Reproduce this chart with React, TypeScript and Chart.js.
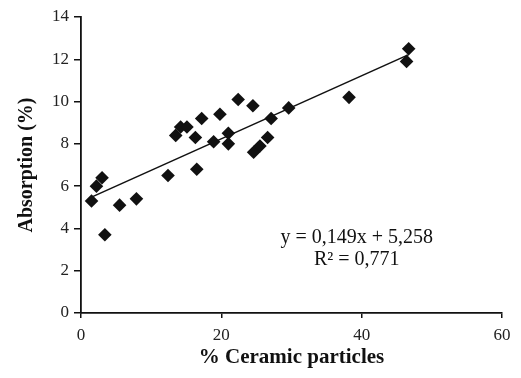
import React, { useEffect, useRef } from "react";
import { Chart, registerables } from "chart.js";

Chart.register(...registerables);

const ceramicPct = [1.5, 2.2, 3.0, 3.4, 5.5, 7.9, 12.4, 13.5, 14.2, 15.1, 16.3, 16.5, 17.2, 18.9, 19.8, 21.0, 21.0, 22.4, 24.5, 24.6, 25.5, 26.6, 27.1, 29.6, 38.2, 46.4, 46.7];
const absorption = [5.3, 6.0, 6.4, 3.7, 5.1, 5.4, 6.5, 8.4, 8.8, 8.8, 8.3, 6.8, 9.2, 8.1, 9.4, 8.5, 8.0, 10.1, 9.8, 7.6, 7.9, 8.3, 9.2, 9.7, 10.2, 11.9, 12.5];
const trendX = [1.5, 46.7];
const trendY = [5.48, 12.22];
const equationLines = ["y = 0,149x + 5,258", "R\u00b2 = 0,771"];
const xTicks = [0, 20, 40, 60];
const yTicks = [0, 2, 4, 6, 8, 10, 12, 14];

const SERIF = '"Liberation Serif", "Times New Roman", serif';

export default function App() {
  const ref = useRef<HTMLCanvasElement | null>(null);

  useEffect(() => {
    const canvas = ref.current;
    if (!canvas) return;

    const textPlugin = {
      id: "equationText",
      afterDraw(chart: any) {
        const { ctx, scales } = chart;
        const cx = scales.x.getPixelForValue(39.3);
        const cy = scales.y.getPixelForValue(3.55);
        ctx.save();
        ctx.fillStyle = "#111";
        ctx.font = `20px ${SERIF}`;
        ctx.textAlign = "center";
        ctx.textBaseline = "middle";
        equationLines.forEach((t, i) => ctx.fillText(t, cx, cy + i * 22));
        ctx.restore();
      },
    };

    const chart = new Chart(canvas, {
      type: "scatter",
      data: {
        datasets: [
          {
            label: "Data",
            data: ceramicPct.map((x, i) => ({ x, y: absorption[i] })),
            pointStyle: "rectRot",
            pointRadius: 6.8,
            pointHoverRadius: 6.8,
            backgroundColor: "#111",
            borderColor: "#111",
            borderWidth: 0,
            showLine: false,
          },
          {
            label: "Trend",
            data: trendX.map((x, i) => ({ x, y: trendY[i] })),
            showLine: true,
            borderColor: "#111",
            borderWidth: 1.6,
            pointRadius: 0,
            fill: false,
          },
        ],
      },
      options: {
        animation: false,
        responsive: false,
        maintainAspectRatio: false,
        layout: { padding: { top: 17, right: 19, left: 0, bottom: 0 } },
        plugins: {
          legend: { display: false },
          tooltip: { enabled: false },
        },
        scales: {
          x: {
            type: "linear",
            min: 0,
            max: 60,
            afterBuildTicks: (s: any) => {
              s.ticks = xTicks.map((v) => ({ value: v }));
            },
            afterFit: (s: any) => {
              s.height = 65;
            },
            ticks: {
              color: "#222",
              font: { family: SERIF, size: 17 },
              padding: 7,
            },
            grid: {
              drawOnChartArea: false,
              drawTicks: true,
              tickLength: 5,
              color: "#111",
              lineWidth: 1.5,
            },
            border: { color: "#111", width: 1.8 },
            title: {
              display: true,
              text: "% Ceramic particles",
              color: "#111",
              font: { family: SERIF, size: 21, weight: "bold" },
              padding: { top: 0, bottom: 8 },
            },
          },
          y: {
            type: "linear",
            min: 0,
            max: 14,
            afterBuildTicks: (s: any) => {
              s.ticks = yTicks.map((v) => ({ value: v }));
            },
            afterFit: (s: any) => {
              s.width = 81;
            },
            ticks: {
              color: "#222",
              font: { family: SERIF, size: 17 },
              padding: 5,
            },
            grid: {
              drawOnChartArea: false,
              drawTicks: true,
              tickLength: 7,
              color: "#111",
              lineWidth: 1.5,
            },
            border: { color: "#111", width: 1.8 },
            title: {
              display: true,
              text: "Absorption (%)",
              color: "#111",
              font: { family: SERIF, size: 20, weight: "bold" },
              padding: { top: 15, bottom: 0 },
            },
          },
        },
      },
      plugins: [textPlugin],
    });

    return () => chart.destroy();
  }, []);

  return (
    <div style={{ position: "fixed", left: 0, top: 0, width: 521, height: 378, background: "#fff" }}>
      <canvas ref={ref} width={521} height={378} style={{ width: 521, height: 378, display: "block" }} />
    </div>
  );
}
